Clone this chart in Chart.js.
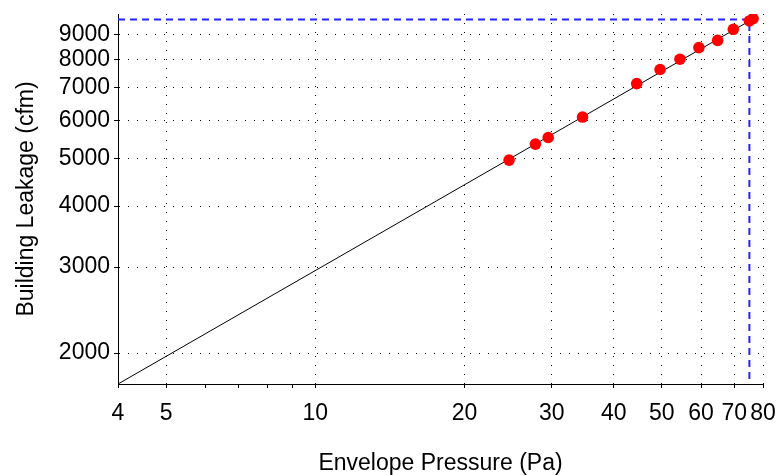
<!DOCTYPE html>
<html lang="en">
<head>
  <meta charset="utf-8" />
  <title>Building Leakage</title>
  <script src="https://cdn.jsdelivr.net/npm/chart.js@4.4.0/dist/chart.umd.min.js"></script>
  <style>
    html, body { margin: 0; padding: 0; background: #fff; }
  </style>
</head>
<body>
  <canvas id="chart" width="779" height="475"></canvas>
  <script>
    // measured test points: envelope pressure (Pa) vs flow (cfm)
    const pressures = [24.6, 27.8, 29.5, 34.6, 44.5, 49.6, 54.4, 59.4, 64.8, 69.7, 75.1, 76.4];
    const flows = [4970, 5360, 5530, 6090, 7130, 7620, 8000, 8450, 8740, 9210, 9580, 9690];

    // fitted power-law line, end points
    const fitX = [4, 77];
    const fitY = [1729, 9720];

    // blue crosshair at the reference pressure
    const markX = [4, 75.1, 75.1];
    const markY = [9650, 9650, 1729];

    const xTicks = [4, 5, 6, 7, 8, 9, 10, 20, 30, 40, 50, 60, 70, 80];
    const xLabelled = [4, 5, 10, 20, 30, 40, 50, 60, 70, 80];
    const yTicks = [2000, 3000, 4000, 5000, 6000, 7000, 8000, 9000];

    const toPts = (xs, ys) => xs.map((x, i) => ({ x: x, y: ys[i] }));
    const font = { family: 'Liberation Sans', size: 23 };

    Chart.defaults.color = '#000';

    new Chart(document.getElementById('chart'), {
      type: 'scatter',
      data: {
        datasets: [
          {
            data: toPts(pressures, flows),
            backgroundColor: '#ff0000',
            borderColor: '#ff0000',
            pointRadius: 5.8,
            pointBorderWidth: 0,
            showLine: false
          },
          {
            data: toPts(fitX, fitY),
            showLine: true,
            borderColor: '#000',
            borderWidth: 1,
            pointRadius: 0
          },
          {
            data: toPts(markX, markY),
            showLine: true,
            borderColor: '#2424ff',
            borderWidth: 2,
            borderDash: [7, 5],
            pointRadius: 0
          }
        ]
      },
      options: {
        responsive: false,
        animation: false,
        layout: { padding: { left: 0, right: 16, top: 14, bottom: 0 } },
        plugins: { legend: { display: false }, tooltip: { enabled: false } },
        scales: {
          x: {
            type: 'logarithmic',
            min: 4,
            max: 80,
            afterBuildTicks: (s) => { s.ticks = xTicks.map(v => ({ value: v })); },
            afterFit: (s) => { s.height = 91; s.paddingLeft = 0; s.paddingRight = 0; },
            ticks: {
              font: font,
              autoSkip: false,
              maxRotation: 0,
              padding: 12,
              callback: (v) => xLabelled.includes(v) ? String(v) : ''
            },
            grid: {
              color: (c) => (c.tick && xLabelled.includes(c.tick.value)) ? '#000' : 'rgba(0,0,0,0)',
              tickColor: '#000',
              tickLength: 4
            },
            border: { color: '#000', width: 1, dash: [1, 8] },
            title: {
              display: true,
              text: 'Envelope Pressure (Pa)',
              font: { family: 'Liberation Sans', size: 23, lineHeight: 1 },
              padding: { top: 0, bottom: 0 }
            }
          },
          y: {
            type: 'logarithmic',
            min: 1729,
            max: 9900,
            afterBuildTicks: (s) => { s.ticks = yTicks.map(v => ({ value: v })); },
            afterFit: (s) => { s.width = 118; s.paddingTop = 0; s.paddingBottom = 0; },
            ticks: {
              font: font,
              padding: 4,
              callback: (v) => String(v)
            },
            grid: {
              color: '#000',
              tickColor: '#000',
              tickLength: 4
            },
            border: { color: '#000', width: 1, dash: [1, 8] },
            title: {
              display: true,
              text: 'Building Leakage (cfm)',
              font: { family: 'Liberation Sans', size: 23, lineHeight: 1 },
              padding: { top: 15, bottom: 0 }
            }
          }
        }
      }
    });
  </script>
</body>
</html>
